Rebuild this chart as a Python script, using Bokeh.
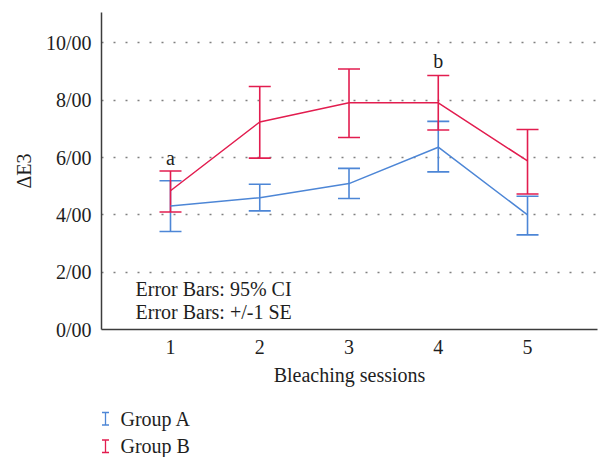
from bokeh.plotting import figure
from bokeh.layouts import column
from bokeh.models import (ColumnDataSource, Whisker, TeeHead, FixedTicker, Label, Range1d)
from bokeh.core.properties import value
from bokeh.embed import file_html
from bokeh.resources import INLINE

# ---- data ----
sessions = [1, 2, 3, 4, 5]
a_mean = [4.31, 4.60, 5.09, 6.36, 4.00]
a_lower = [3.42, 4.14, 4.57, 5.50, 3.30]
a_upper = [5.19, 5.07, 5.62, 7.26, 4.65]
b_mean = [4.84, 7.24, 7.91, 7.91, 5.88]
b_lower = [4.10, 5.98, 6.70, 6.96, 4.73]
b_upper = [5.53, 8.48, 9.09, 8.86, 6.98]
group_names = ["Group A", "Group B"]
y_ticks = [0, 2, 4, 6, 8, 10]
y_tick_labels = ["0/00", "2/00", "4/00", "6/00", "8/00", "10/00"]
sig_x = [1, 4]
sig_y = [6.0, 9.36]
sig_text = ["a", "b"]
notes = ["Error Bars: 95% CI", "Error Bars: +/-1 SE"]

FONT = "Liberation Serif"
BLUE = "#4d86d6"
RED = "#e21d4f"
TXT = "#1e1e1e"

p = figure(width=600, height=395, output_backend="svg", toolbar_location=None,
           x_range=Range1d(0.227, 5.784), y_range=Range1d(0, 11.06),
           min_border_left=101, min_border_right=3, min_border_top=12,
           min_border_bottom=66)
p.outline_line_color = None
p.xgrid.grid_line_color = None
p.ygrid.grid_line_color = "#808080"
p.ygrid.grid_line_dash = "2 10"
p.ygrid.grid_line_width = 1.5
p.ygrid.ticker = FixedTicker(ticks=y_ticks[1:])

for ax in (p.xaxis[0], p.yaxis[0]):
    ax.axis_line_color = "#3c3c3c"
    ax.axis_line_width = 1.5
    ax.major_tick_line_color = None
    ax.minor_tick_line_color = None
    ax.major_tick_out = 0
    ax.major_tick_in = 0
    ax.major_label_text_font = FONT
    ax.major_label_text_font_size = "20px"
    ax.major_label_text_color = TXT
    ax.axis_label_text_font = FONT
    ax.axis_label_text_font_size = "20px"
    ax.axis_label_text_font_style = "normal"
    ax.axis_label_text_color = TXT

p.xaxis.ticker = FixedTicker(ticks=sessions)
p.xaxis.axis_label = "Bleaching sessions"
p.xaxis.major_label_standoff = 10
p.xaxis.axis_label_standoff = 7
p.yaxis.ticker = FixedTicker(ticks=y_ticks)
p.yaxis.major_label_overrides = {t: l for t, l in zip(y_ticks, y_tick_labels)}
p.yaxis.axis_label = "ΔE3"
p.yaxis.major_label_standoff = 10
p.yaxis.axis_label_standoff = 8

groups = [(a_mean, a_lower, a_upper, BLUE), (b_mean, b_lower, b_upper, RED)]
for mean, lo, up, col in groups:
    src = ColumnDataSource(dict(x=sessions, m=mean, lo=lo, up=up))
    p.add_layout(Whisker(source=src, base="x", lower="lo", upper="up",
                         line_color=col, line_width=1.6,
                         upper_head=TeeHead(size=22, line_color=col, line_width=1.6),
                         lower_head=TeeHead(size=22, line_color=col, line_width=1.6)))
    p.line("x", "m", source=src, line_color=col, line_width=1.5)

p.text(x=sig_x, y=sig_y, text=sig_text, text_align="center",
       text_baseline="alphabetic", text_font=value(FONT),
       text_font_size="20px", text_color=TXT)

for note, ny in zip(notes, [1.42, 0.61]):
    p.add_layout(Label(x=0.608, y=ny, text=note, text_font=FONT,
                       text_baseline="alphabetic",
                       text_font_size="20px", text_color=TXT))

# ---- legend strip (pixel coordinates, x matches the aligned frame, y downward) ----
leg = figure(width=600, height=62, output_backend="svg", toolbar_location=None,
             x_range=Range1d(101, 597), y_range=Range1d(62, 0),
             x_axis_location=None, y_axis_location=None,
             min_border=0, min_border_left=101, min_border_right=3,
             min_border_top=0, min_border_bottom=0)
leg.grid.visible = False
leg.outline_line_color = None
leg_row_y = [23.0, 50.5]
for name, (_, _, _, col), ry in zip(group_names, groups, leg_row_y):
    lsrc = ColumnDataSource(dict(x=[105], lo=[ry - 6], up=[ry + 6.5]))
    leg.add_layout(Whisker(source=lsrc, base="x", lower="lo", upper="up",
                           line_color=col, line_width=1.3,
                           upper_head=TeeHead(size=7, line_color=col, line_width=1.3),
                           lower_head=TeeHead(size=7, line_color=col, line_width=1.3)))
    leg.text(x=[120], y=[ry], text=[name], text_baseline="middle",
             text_font=value(FONT), text_font_size="20px", text_color=TXT)

open("out.html", "w").write(file_html(column(p, leg, spacing=0), INLINE))
